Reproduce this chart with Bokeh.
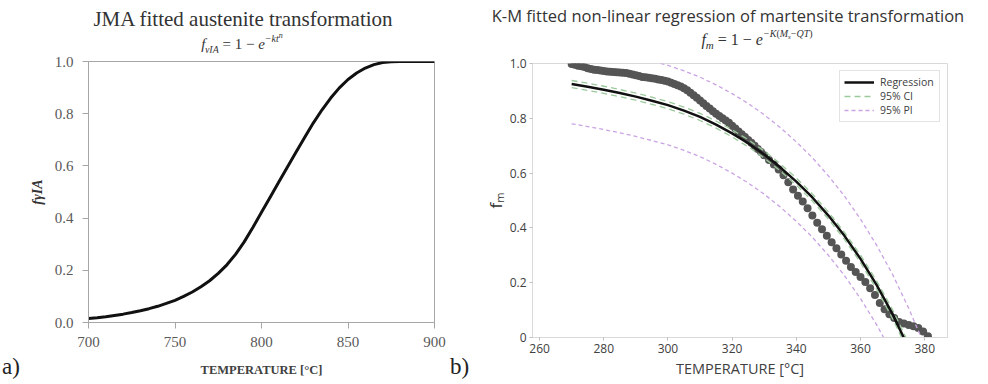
from bokeh.plotting import figure
from bokeh.models import FixedTicker, Range1d, Legend, LegendItem, Div, Spacer
from bokeh.layouts import row, column
from bokeh.embed import file_html
from bokeh.resources import INLINE

# ---------------- data: panel a) ----------------
jma_temp = [700, 705, 710, 715, 720, 725, 730, 735, 740, 745, 750, 755, 760, 765,
            770, 775, 780, 785, 790, 795, 800, 805, 810, 815, 820, 825, 830, 835,
            840, 845, 850, 855, 860, 865, 870, 875, 880, 890, 900]
jma_frac = [0.015, 0.018, 0.022, 0.027, 0.032, 0.038, 0.045, 0.053, 0.062, 0.073,
            0.085, 0.100, 0.117, 0.137, 0.160, 0.188, 0.221, 0.261, 0.309, 0.364,
            0.422, 0.480, 0.538, 0.596, 0.653, 0.710, 0.765, 0.815, 0.860, 0.899,
            0.931, 0.956, 0.975, 0.988, 0.996, 0.999, 1.0, 1.0, 1.0]
a_xticks = [700, 750, 800, 850, 900]
a_yticks = [0.0, 0.2, 0.4, 0.6, 0.8, 1.0]
a_ylabels = ["0.0", "0.2", "0.4", "0.6", "0.8", "1.0"]

# ---------------- data: panel b) ----------------
meas_temp = [270, 271, 272, 273, 274, 275, 276, 277, 278, 279,
             280, 281, 282, 283, 284, 285, 286, 287, 288, 289,
             290, 291, 292, 293, 294, 295, 296, 297, 298, 299,
             300, 301, 302, 303, 304, 305, 306, 307, 308, 309,
             310, 311, 312, 313, 314, 315, 316, 317, 318, 319,
             320, 321, 322, 323, 324, 325, 326, 327, 328, 329, 330,
             331.5, 333, 334.5, 336, 337.5, 339, 340.5, 342, 343.5, 345,
             346.5, 348, 349.5, 351, 352.5, 354, 355.5, 357, 358.5, 360,
             361.5, 363, 364.5, 366, 367.5, 369, 370.5, 372, 373.5, 375,
             376.5, 378, 379.5, 381]
meas_frac = [0.998, 0.995, 0.992, 0.990, 0.987, 0.983, 0.980, 0.977, 0.976, 0.974,
             0.973, 0.971, 0.970, 0.969, 0.968, 0.967, 0.966, 0.965, 0.963, 0.960,
             0.957, 0.954, 0.951, 0.950, 0.948, 0.946, 0.944, 0.942, 0.940, 0.937,
             0.934, 0.930, 0.925, 0.921, 0.916, 0.910, 0.902, 0.893, 0.884, 0.875,
             0.865, 0.855, 0.845, 0.836, 0.826, 0.817, 0.808, 0.800, 0.792, 0.784,
             0.773, 0.763, 0.752, 0.742, 0.732, 0.721, 0.711, 0.700, 0.688, 0.677, 0.665,
             0.648, 0.631, 0.613, 0.592, 0.567, 0.540, 0.517, 0.496, 0.472, 0.445,
             0.419, 0.395, 0.371, 0.348, 0.326, 0.303, 0.280, 0.257, 0.239, 0.221,
             0.203, 0.180, 0.155, 0.126, 0.103, 0.085, 0.071, 0.057, 0.051, 0.046,
             0.041, 0.035, 0.022, 0.005]

fit_temp = [270, 275, 280, 285, 290, 295, 300, 305, 310, 315, 320, 325,
            330, 335, 340, 345, 350, 355, 360, 365, 370, 375, 380]
reg_frac = [0.925, 0.915, 0.904, 0.892, 0.879, 0.864, 0.848, 0.828, 0.805, 0.777, 0.745, 0.709,
            0.668, 0.621, 0.569, 0.511, 0.445, 0.371, 0.287, 0.192, 0.085, -0.038, -0.176]
ci_upper = [0.938, 0.928, 0.917, 0.905, 0.892, 0.877, 0.861, 0.841, 0.818, 0.790, 0.758, 0.722,
            0.681, 0.634, 0.582, 0.524, 0.458, 0.384, 0.301, 0.207, 0.101, -0.021, -0.157]
ci_lower = [0.912, 0.902, 0.891, 0.879, 0.866, 0.851, 0.835, 0.815, 0.792, 0.764, 0.732, 0.696,
            0.655, 0.608, 0.556, 0.498, 0.432, 0.358, 0.273, 0.177, 0.069, -0.055, -0.195]
pi_upper = [1.070, 1.060, 1.049, 1.037, 1.024, 1.009, 0.993, 0.973, 0.950, 0.922, 0.890, 0.854,
            0.813, 0.766, 0.714, 0.656, 0.590, 0.516, 0.432, 0.337, 0.230, 0.107, -0.031]
pi_lower = [0.780, 0.770, 0.759, 0.747, 0.734, 0.719, 0.703, 0.683, 0.660, 0.632, 0.600, 0.564,
            0.523, 0.476, 0.424, 0.366, 0.300, 0.226, 0.142, 0.047, -0.060, -0.183, -0.321]
b_xticks = [260, 280, 300, 320, 340, 360, 380]
b_yticks = [0.0, 0.2, 0.4, 0.6, 0.8, 1.0]
b_ylabels = ["0", "0.2", "0.4", "0.6", "0.8", "1.0"]

SERIF = "Liberation Serif"
SANS = "Open Sans"

# ================= panel a) =================
p1 = figure(width=424, height=332, output_backend="svg", toolbar_location=None,
            x_range=Range1d(700, 900), y_range=Range1d(0, 1),
            min_border_left=60, min_border_right=16, min_border_top=9,
            min_border_bottom=62, frame_align=False)
p1.grid.visible = False
p1.outline_line_color = "#a6a6a6"
p1.outline_line_width = 1
p1.line(jma_temp, jma_frac, line_color="#111111", line_width=3, line_join="round")

for ax in (p1.xaxis[0], p1.yaxis[0]):
    ax.axis_line_color = "#a6a6a6"
    ax.major_tick_line_color = "#a6a6a6"
    ax.minor_tick_line_color = None
    ax.major_tick_in = 0
    ax.major_tick_out = 6
    ax.major_label_text_font = SERIF
    ax.major_label_text_font_size = "15px"
    ax.major_label_text_color = "#595959"
p1.xaxis.ticker = FixedTicker(ticks=a_xticks)
p1.yaxis.ticker = FixedTicker(ticks=a_yticks)
p1.yaxis.major_label_overrides = {t: s for t, s in zip(a_yticks, a_ylabels)}
p1.xaxis.major_label_standoff = 8
p1.yaxis.major_label_standoff = 9
p1.xaxis.axis_label = "TEMPERATURE [°C]"
p1.xaxis.axis_label_text_font = SERIF
p1.xaxis.axis_label_text_font_style = "bold"
p1.xaxis.axis_label_text_font_size = "12.5px"
p1.xaxis.axis_label_text_color = "#404040"
p1.xaxis.axis_label_standoff = 13
p1.yaxis.axis_label = "fγIA"
p1.yaxis.axis_label_text_font = SERIF
p1.yaxis.axis_label_text_font_style = "bold italic"
p1.yaxis.axis_label_text_font_size = "14px"
p1.yaxis.axis_label_text_color = "#333333"
p1.yaxis.axis_label_standoff = 7

# ================= panel b) =================
p2 = figure(width=508, height=332, output_backend="svg", toolbar_location=None,
            x_range=Range1d(257.8, 387.1), y_range=Range1d(0, 1),
            min_border_left=51, min_border_right=41, min_border_top=11,
            min_border_bottom=47, frame_align=False)
p2.grid.visible = False
p2.outline_line_color = "#d9d9d9"
p2.outline_line_width = 1

p2.scatter(meas_temp, meas_frac, size=8, fill_color="#555555", line_color=None)
r_ci = p2.line(fit_temp, ci_upper, line_color="#9cc99c", line_width=1.3, line_dash="6 4")
p2.line(fit_temp, ci_lower, line_color="#9cc99c", line_width=1.3, line_dash="6 4")
r_reg = p2.line(fit_temp, reg_frac, line_color="#111111", line_width=2.5)
r_pi = p2.line(fit_temp, pi_upper, line_color="#c9a3e3", line_width=1.3, line_dash="4 3")
p2.line(fit_temp, pi_lower, line_color="#c9a3e3", line_width=1.3, line_dash="4 3")

for ax in (p2.xaxis[0], p2.yaxis[0]):
    ax.axis_line_color = "#d9d9d9"
    ax.major_tick_line_color = "#bfbfbf"
    ax.minor_tick_line_color = None
    ax.major_tick_in = 0
    ax.major_tick_out = 3
    ax.major_label_standoff = 3
    ax.major_label_text_font = SANS
    ax.major_label_text_font_size = "12px"
    ax.major_label_text_color = "#404040"
p2.xaxis.ticker = FixedTicker(ticks=b_xticks)
p2.yaxis.ticker = FixedTicker(ticks=b_yticks)
p2.yaxis.major_label_overrides = {t: s for t, s in zip(b_yticks, b_ylabels)}
p2.xaxis.axis_label = "TEMPERATURE [°C]"
p2.xaxis.axis_label_text_font = SANS
p2.xaxis.axis_label_text_font_style = "normal"
p2.xaxis.axis_label_text_font_size = "14.5px"
p2.xaxis.axis_label_text_color = "#404040"
p2.xaxis.axis_label_standoff = 3
p2.yaxis.axis_label = "fₘ"
p2.yaxis.axis_label_text_font = SANS
p2.yaxis.axis_label_text_font_style = "normal"
p2.yaxis.axis_label_text_font_size = "17px"
p2.yaxis.axis_label_text_color = "#333333"
p2.yaxis.axis_label_standoff = 0

legend = Legend(items=[LegendItem(label="Regression", renderers=[r_reg]),
                       LegendItem(label="95% CI", renderers=[r_ci]),
                       LegendItem(label="95% PI", renderers=[r_pi])],
                location="top_right", margin=7, padding=4, spacing=0,
                glyph_width=30, glyph_height=12, label_height=12,
                label_standoff=6, label_width=55,
                label_text_font=SANS, label_text_font_size="10.5px",
                label_text_color="#404040",
                border_line_color="#c8c8c8", border_line_width=1,
                background_fill_alpha=1.0)
p2.add_layout(legend)

# ================= titles, formulas, panel letters =================
title_a = Div(width=424, height=52, margin=0, text=(
    '<div style="width:424px;font-family:\'Liberation Serif\';color:#333333;text-align:center;">'
    '<div style="font-size:21px;line-height:20px;padding-top:9px;padding-left:10px;white-space:nowrap;">'
    'JMA fitted austenite transformation</div>'
    '<div style="font-size:15px;line-height:15px;margin-top:7px;padding-left:8px;white-space:nowrap;">'
    '<i>f</i><sub style="font-size:10px;line-height:0;vertical-align:-4px;"><i>γIA</i></sub>'
    ' = 1 − <i>e</i>'
    '<sup style="font-size:10px;line-height:0;vertical-align:7px;"><i>−kt</i>'
    '<sup style="font-size:8px;line-height:0;vertical-align:4px;"><i>n</i></sup></sup>'
    '</div></div>'))

title_b = Div(width=508, height=52, margin=0, text=(
    '<div style="width:508px;color:#333333;text-align:center;">'
    '<div style="font-family:\'Open Sans\';font-size:16.5px;line-height:16px;padding-top:8px;'
    'padding-right:12px;white-space:nowrap;">'
    'K-M fitted non-linear regression of martensite transformation</div>'
    '<div style="font-family:\'Liberation Serif\';font-size:16px;line-height:16px;margin-top:8px;'
    'padding-left:46px;white-space:nowrap;">'
    '<i>f</i><sub style="font-size:11px;line-height:0;vertical-align:-4px;"><i>m</i></sub>'
    ' = 1 − <i>e</i>'
    '<sup style="font-size:10px;line-height:0;vertical-align:8px;"><i>−K</i>(<i>M</i>'
    '<sub style="font-size:7px;line-height:0;vertical-align:-2px;"><i>s</i></sub>'
    '−<i>QT</i>)</sup>'
    '</div></div>'))

letter_a = Div(width=26, height=32, margin=0, text=(
    '<div style="font-family:\'Liberation Serif\';font-size:23px;line-height:23px;'
    'padding-top:3px;padding-left:2px;color:#222222;white-space:nowrap;">a)</div>'))
letter_b = Div(width=30, height=32, margin=0, text=(
    '<div style="font-family:\'Liberation Serif\';font-size:23px;line-height:23px;'
    'padding-top:3px;padding-left:0px;color:#222222;white-space:nowrap;">b)</div>'))

layout = row(
    column(Spacer(width=26, height=352), letter_a, spacing=0),
    column(title_a, p1, spacing=0),
    column(Spacer(width=30, height=352), letter_b, spacing=0),
    column(title_b, p2, spacing=0),
    spacing=0,
)
open("out.html", "w").write(file_html(layout, INLINE))
